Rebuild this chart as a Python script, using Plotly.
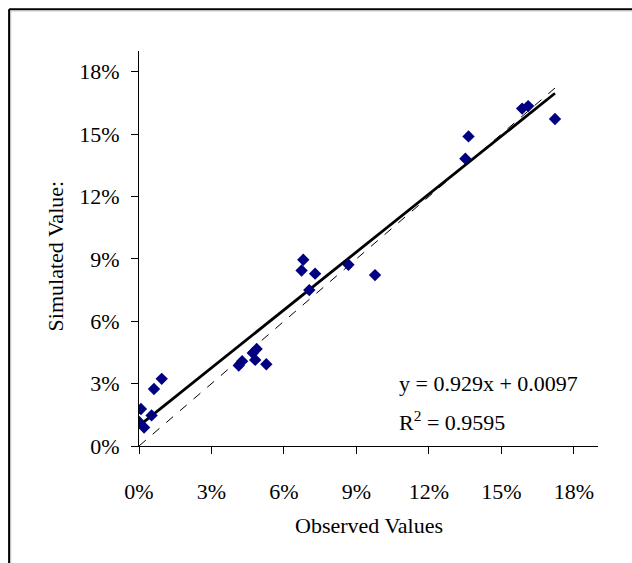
import plotly.graph_objects as go

# Data (fractions)
observed = [0.0008, 0.0001, 0.0021, 0.0052, 0.0062, 0.0094, 0.0413, 0.0427, 0.0471,
            0.0487, 0.0481, 0.0527, 0.0673, 0.0680, 0.0729, 0.0705, 0.0867, 0.0977,
            0.1351, 0.1364, 0.1586, 0.1611, 0.1722]
simulated = [0.0178, 0.0116, 0.0089, 0.0147, 0.0274, 0.0323, 0.0387, 0.0408, 0.0447,
             0.0467, 0.0414, 0.0393, 0.0844, 0.0896, 0.0829, 0.0750, 0.0872, 0.0822,
             0.1382, 0.1489, 0.1623, 0.1635, 0.1573]
slope = 0.929
intercept = 0.0097
r2 = 0.9595
tick_vals = [0, 0.03, 0.06, 0.09, 0.12, 0.15, 0.18]
axis_max = 0.19

FONT = "Liberation Serif, Times New Roman, serif"
FS = 22

xmin, xmax = min(observed), max(observed)
trend_x = [xmin, xmax]
trend_y = [slope * v + intercept for v in trend_x]
ident_x = [0, xmax]
ident_y = [0, xmax]

fig = go.Figure()
fig.add_trace(go.Scatter(x=ident_x, y=ident_y, mode="lines",
                         line=dict(color="black", width=1, dash="dash"),
                         hoverinfo="skip", showlegend=False))
fig.add_trace(go.Scatter(x=trend_x, y=trend_y, mode="lines",
                         line=dict(color="black", width=2.8),
                         hoverinfo="skip", showlegend=False))
fig.add_trace(go.Scatter(x=observed, y=simulated, mode="markers",
                         marker=dict(symbol="diamond", size=9.5, color="#000080",
                                     line=dict(width=0)),
                         showlegend=False))

axis_common = dict(range=[0, axis_max], tickvals=tick_vals, tickformat=".0%",
                   showgrid=False, zeroline=False, showline=True,
                   linecolor="black", linewidth=1, ticks="outside",
                   ticklen=7, tickcolor="black", tickwidth=1,
                   tickfont=dict(family=FONT, size=FS, color="black"))

fig.update_xaxes(**axis_common, ticklabelstandoff=19)
fig.update_yaxes(**axis_common, ticklabelstandoff=7)

fig.update_layout(
    width=632, height=563,
    margin=dict(l=139, r=34, t=51, b=117),
    paper_bgcolor="white", plot_bgcolor="white",
    font=dict(family=FONT, size=FS, color="black"),
    showlegend=False,
    annotations=[
        dict(text="Observed Values", xref="paper", yref="paper", x=0.5, y=-0.2,
             showarrow=False, xanchor="center", yanchor="middle",
             font=dict(family=FONT, size=FS)),
        dict(text="Simulated Value:", xref="paper", yref="paper", x=-0.183, y=0.48,
             showarrow=False, textangle=-90, xanchor="center", yanchor="middle",
             font=dict(family=FONT, size=FS)),
        dict(text=f"y = {slope}x + {intercept}", xref="paper", yref="paper",
             x=0.562, y=0.159, showarrow=False, xanchor="left", yanchor="middle",
             font=dict(family=FONT, size=FS)),
        dict(text=f"R<sup>2</sup> = {r2}", xref="paper", yref="paper",
             x=0.562, y=0.063, showarrow=False, xanchor="left", yanchor="middle",
             font=dict(family=FONT, size=FS)),
    ],
    shapes=[
        dict(type="line", xref="paper", yref="paper", x0=-0.283, x1=1.2,
             y0=1.106, y1=1.106, line=dict(color="black", width=2)),
        dict(type="line", xref="paper", yref="paper", x0=-0.283, x1=-0.283,
             y0=1.106, y1=-0.4, line=dict(color="black", width=2)),
        dict(type="line", xref="paper", yref="paper", x0=-0.279, x1=1.2,
             y0=1.1015, y1=1.1015, line=dict(color="#bbbbbb", width=1)),
        dict(type="line", xref="paper", yref="paper", x0=-0.2795, x1=-0.2795,
             y0=1.1015, y1=-0.4, line=dict(color="#bbbbbb", width=1)),
    ],
)

fig.write_html("out.html")
